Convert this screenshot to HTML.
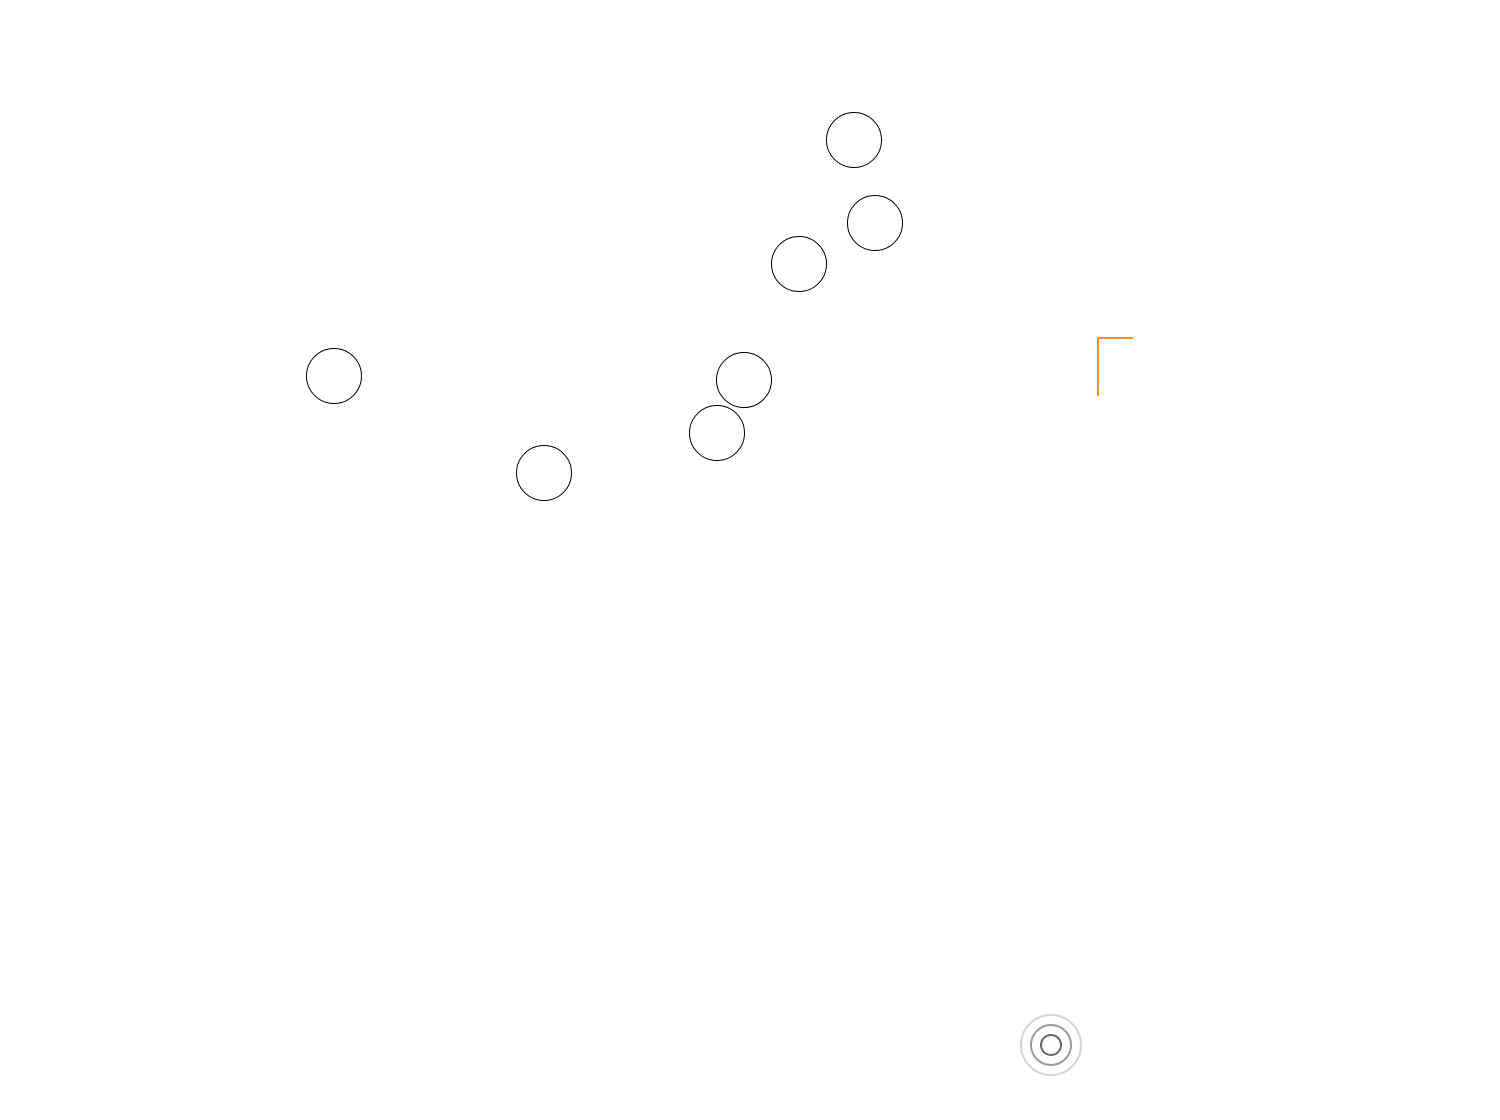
<!DOCTYPE html>
<html><head><style>html,body{margin:0;padding:0;background:#fff;}</style></head>
<body>
<svg width="1500" height="1120" xmlns="http://www.w3.org/2000/svg" style="display:block">
<g fill="#fff" stroke="#000" stroke-width="1">
<circle cx="854" cy="140" r="27.5"/>
<circle cx="875" cy="223" r="27.5"/>
<circle cx="799" cy="264" r="27.5"/>
<circle cx="334" cy="376" r="27.5"/>
<circle cx="744" cy="380" r="27.5"/>
<circle cx="717" cy="433" r="27.5"/>
<circle cx="544" cy="473" r="27.5"/>
</g>
<path d="M1098 396 V338 H1133" fill="none" stroke="#f7931e" stroke-width="2"/>
<g fill="none">
<circle cx="1051" cy="1045" r="30" stroke="#d4d4d4" stroke-width="2"/>
<circle cx="1051" cy="1045" r="20" stroke="#999" stroke-width="2"/>
<circle cx="1051" cy="1045" r="10" stroke="#666" stroke-width="2"/>
</g>
</svg>
</body></html>
